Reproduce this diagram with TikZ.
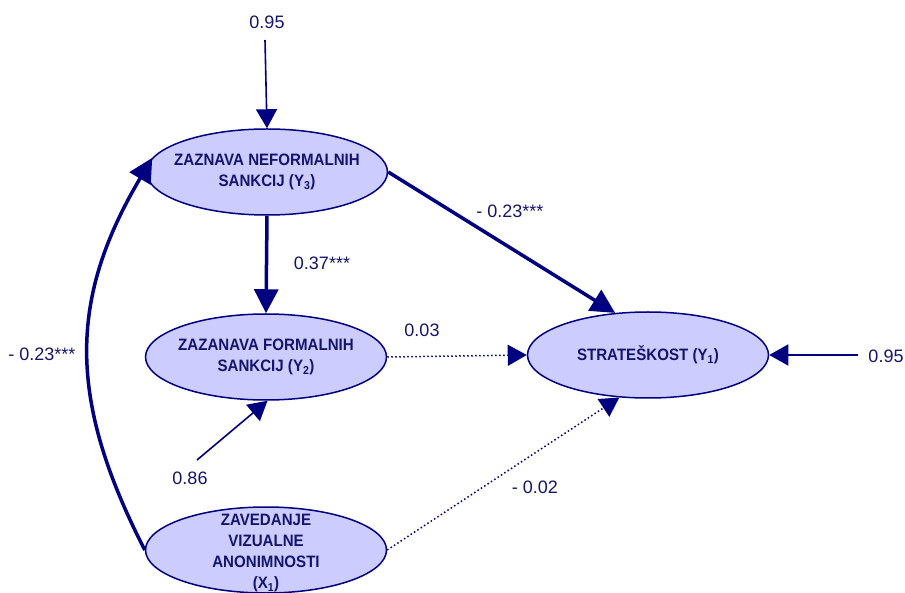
\documentclass[tikz,border=0pt]{standalone}
\usepackage{fontspec}
\setmainfont{Liberation Sans}
\usetikzlibrary{shapes.geometric,arrows.meta}
\definecolor{navy}{HTML}{000080}
\definecolor{txt}{HTML}{14146E}
\definecolor{lav}{HTML}{CCCCFF}
\tikzset{
  latent/.style={ellipse, draw=navy, fill=lav, line width=1.5pt, inner sep=0pt, minimum width=241pt, minimum height=86pt},
  ntext/.style={align=center, text=txt, font=\fontsize{16.5}{21}\selectfont\bfseries, inner sep=0pt, transform shape, xscale=0.915},
  coef/.style={text=txt, font=\fontsize{18}{20}\selectfont, inner sep=0pt},
  strong/.style={draw=navy, line width=3.5pt, -{Triangle[length=24pt,width=24pt]}},
  thin/.style={draw=navy, line width=1.6pt, -{Triangle[length=19pt,width=21pt]}},
  weak/.style={draw=navy, line width=1.5pt, dash pattern=on 1.5pt off 2.5pt, -{Triangle[length=19pt,width=21pt,fill=navy]}},
}
\begin{document}
\begin{tikzpicture}[x=1pt,y=-1pt]
\useasboundingbox (0,0) rectangle (905,593);
% ellipses
\node[latent] (Y3) at (267,172) {};
\node[latent] (Y2) at (266,357) {};
\node[latent] (X1) at (266,550) {};
\node[latent] (Y1) at (648,355) {};
\node[ntext] (tY3) at (Y3) {ZAZNAVA NEFORMALNIH\\SANKCIJ (Y\textsubscript{3})};
\node[ntext] (tY2) at (Y2) {ZAZANAVA FORMALNIH\\SANKCIJ (Y\textsubscript{2})};
\node[ntext] (tX1) at ([yshift=-3pt]X1.center) {ZAVEDANJE\\VIZUALNE\\ANONIMNOSTI\\(X\textsubscript{1})};
\node[ntext] (tY1) at (Y1) {STRATEŠKOST (Y\textsubscript{1})};
% free ends
\coordinate (e3) at (265,40);
\coordinate (e1) at (858,355);
\coordinate (e2) at (197,460);
% coefficient labels
\node[coef] (c95a) at (267,22) {0.95};
\node[coef] (c95b) at (886,356) {0.95};
\node[coef] (c37) at (322,263) {0.37***};
\node[coef] (c03) at (422,330) {0.03};
\node[coef] (c86) at (190,478) {0.86};
\node[coef] (c02) at (535,487) {- 0.02};
\node[coef] (c23a) at (510,211) {- 0.23***};
\node[coef] (c23b) at (42,354) {- 0.23***};
% connectors
\draw[thin] (e3) -- (Y3.north);
\draw[thin] (e1) -- (Y1.east);
\draw[thin] (e2) -- (Y2.272);
\draw[strong] (Y3.south) -- (Y2.north);
\draw[strong] (Y3.east) -- (Y1.128);
\draw[weak] (Y2.east) -- (Y1.west);
\draw[weak] (X1.east) -- (Y1.236);
\draw[strong] (X1.west) .. controls (68,400) and (68,300) .. (Y3.173);
\end{tikzpicture}
\end{document}
